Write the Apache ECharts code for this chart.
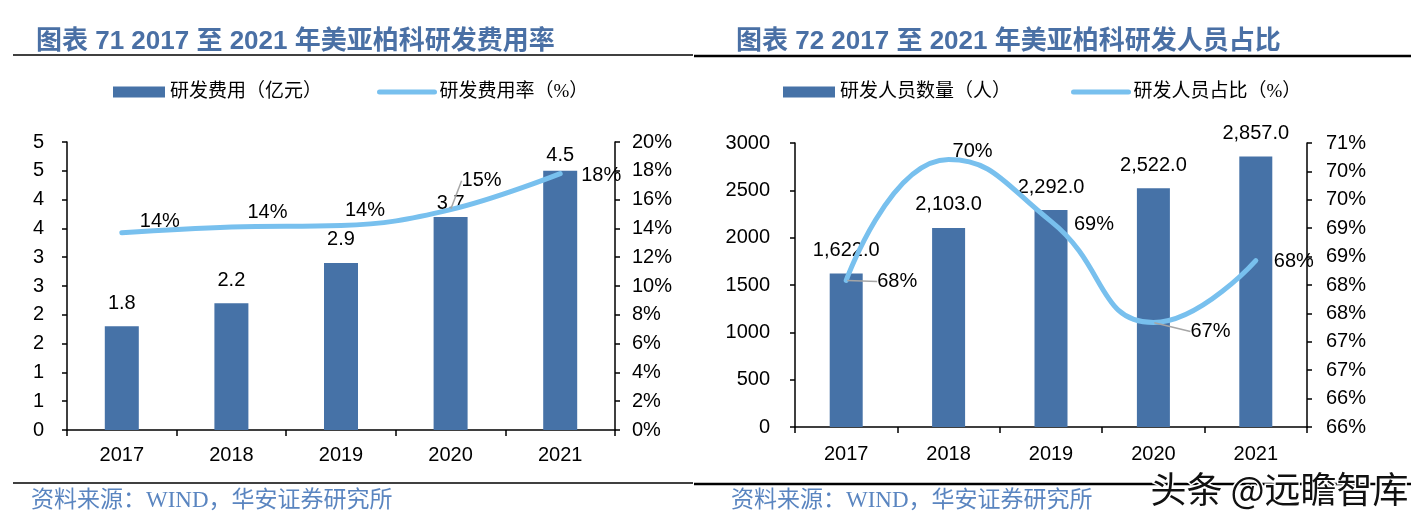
<!DOCTYPE html>
<html><head><meta charset="utf-8">
<script src="https://cdn.jsdelivr.net/npm/echarts@6/dist/echarts.min.js"></script>
<style>html,body{margin:0;padding:0;background:#fff}#c{width:1428px;height:525px}</style>
</head><body><div id="c"></div>
<script>
// ---- data ----
const years = ['2017', '2018', '2019', '2020', '2021'];
const rdExpense = [1.8, 2.2, 2.9, 3.7, 4.5];            // 亿元
const rdExpenseRate = [13.7, 14.1, 14.2, 15.3, 17.8];   // %
const rdStaff = [1622, 2103, 2292, 2522, 2857];         // 人
const rdStaffShare = [68.58, 70.71, 69.62, 67.84, 68.93]; // %
const leftTicksExpense = { min: 0, max: 5, interval: 0.5 };
const leftTicksRate = { min: 0, max: 20, interval: 2 };
const rightTicksStaff = { min: 0, max: 3000, interval: 500 };
const rightTicksShare = { min: 66, max: 71, interval: 0.5 };

// ---- styles ----
const BAR = '#4672A7';
const LINE = '#78C0EE';
const TITLE = '#4A70A5';
const SRC = '#5A85C0';
const NUM_FONT = "'Liberation Sans', Arial, 'Noto Sans CJK SC', sans-serif";
const CJK_FONT = "'Liberation Serif', 'Noto Sans CJK SC', serif";

const leftRateOffsets = [[38, -11], [36, -14], [24, -15], [31, -29], [41, 2]];
const rightShareOffsets = [[51, 1], [24, -8], [43, 3], [57, 9], [38, 1]];
const leftGuide = [3];
const rightGuide = [0, 3];
const leftBarDist = [13, 13, 13, 3, 5];

function thousands(v) {
  const s = v.toFixed(1);
  const [i, d] = s.split('.');
  return i.replace(/\B(?=(\d{3})+(?!\d))/g, ',') + '.' + d;
}

const axisLine = { show: true, lineStyle: { color: '#000', width: 1.5 } };
const axisTick = (len) => ({ show: true, length: len, lineStyle: { color: '#000', width: 1.5 } });
const numLabel = { color: '#000', fontSize: 20, fontFamily: NUM_FONT };
const legendText = { fontSize: 19, color: '#000', fontFamily: CJK_FONT, lineHeight: 20 };
const titleText = { color: TITLE, fontSize: 26, fontWeight: 'bold', lineHeight: 30,
  fontFamily: "'Liberation Sans', 'Noto Sans CJK SC', sans-serif" };

const chart = echarts.init(document.getElementById('c'), null, { renderer: 'canvas' });

const option = {
  animation: false,
  backgroundColor: '#fff',
  title: [
    { text: '图表 71 2017 至 2021 年美亚柏科研发费用率', left: 31, top: 22, textStyle: titleText },
    { text: '图表 72 2017 至 2021 年美亚柏科研发人员占比', left: 731, top: 22, textStyle: titleText }
  ],
  legend: [
    { data: [{ name: '研发费用（亿元）', icon: 'rect' }], left: 113, top: 82, padding: 0, itemWidth: 52, itemHeight: 11,
      textStyle: legendText },
    { data: ['研发费用率（%）'], left: 377, top: 82, padding: 0, itemWidth: 55, itemHeight: 11,
      lineStyle: { width: 5, cap: 'round' }, textStyle: legendText },
    { data: [{ name: '研发人员数量（人）', icon: 'rect' }], left: 783, top: 82, padding: 0, itemWidth: 52, itemHeight: 11,
      textStyle: legendText },
    { data: ['研发人员占比（%）'], left: 1071, top: 82, padding: 0, itemWidth: 55, itemHeight: 11,
      lineStyle: { width: 5, cap: 'round' }, textStyle: legendText }
  ],
  grid: [
    { left: 67, top: 142, width: 548, height: 288, containLabel: false },
    { left: 795, top: 143, width: 512, height: 284, containLabel: false }
  ],
  xAxis: [
    { type: 'category', gridIndex: 0, data: years, boundaryGap: true,
      axisLine, axisTick: axisTick(6), axisLabel: Object.assign({ margin: 15 }, numLabel) },
    { type: 'category', gridIndex: 1, data: years, boundaryGap: true,
      axisLine, axisTick: axisTick(6), axisLabel: Object.assign({ margin: 17 }, numLabel) }
  ],
  yAxis: [
    Object.assign({ type: 'value', gridIndex: 0, position: 'left', splitLine: { show: false },
      axisLine, axisTick: axisTick(5),
      axisLabel: Object.assign({ margin: 23, formatter: v => String(Math.round(v)) }, numLabel) }, leftTicksExpense),
    Object.assign({ type: 'value', gridIndex: 0, position: 'right', splitLine: { show: false },
      axisLine, axisTick: axisTick(5),
      axisLabel: Object.assign({ margin: 17, formatter: v => Math.round(v) + '%' }, numLabel) }, leftTicksRate),
    Object.assign({ type: 'value', gridIndex: 1, position: 'left', splitLine: { show: false },
      axisLine, axisTick: axisTick(5),
      axisLabel: Object.assign({ margin: 25, formatter: v => String(v) }, numLabel) }, rightTicksStaff),
    Object.assign({ type: 'value', gridIndex: 1, position: 'right', splitLine: { show: false },
      axisLine, axisTick: axisTick(5),
      axisLabel: Object.assign({ margin: 19, formatter: v => Math.floor(v + 1e-9) + '%' }, numLabel) }, rightTicksShare)
  ],
  series: [
    { name: '研发费用（亿元）', type: 'bar', xAxisIndex: 0, yAxisIndex: 0, barWidth: 34,
      itemStyle: { color: BAR },
      data: rdExpense.map((v, i) => ({ value: v, label: { distance: leftBarDist[i] } })),
      label: Object.assign({ show: true, position: 'top', formatter: p => p.value.toFixed(1) }, numLabel),
      z: 2 },
    { name: '研发费用率（%）', type: 'line', xAxisIndex: 0, yAxisIndex: 1, smooth: 0.4,
      symbol: 'circle', symbolSize: 2, itemStyle: { color: 'rgba(0,0,0,0)' },
      lineStyle: { color: LINE, width: 5, cap: 'round' },
      data: rdExpenseRate.map((v, i) => ({ value: v,
        labelLine: { show: leftGuide.includes(i), lineStyle: { color: '#a6a6a6', width: 1.5 } } })),
      label: Object.assign({ show: true, position: 'inside', formatter: p => Math.round(p.value) + '%' }, numLabel),
      labelLayout: p => ({ dx: leftRateOffsets[p.dataIndex][0], dy: leftRateOffsets[p.dataIndex][1] }),
      z: 5 },
    { name: '研发人员数量（人）', type: 'bar', xAxisIndex: 1, yAxisIndex: 2, barWidth: 33,
      itemStyle: { color: BAR },
      data: rdStaff,
      label: Object.assign({ show: true, position: 'top', distance: 13, formatter: p => thousands(p.value) }, numLabel),
      z: 2 },
    { name: '研发人员占比（%）', type: 'line', xAxisIndex: 1, yAxisIndex: 3, smooth: true,
      symbol: 'circle', symbolSize: 2, itemStyle: { color: 'rgba(0,0,0,0)' },
      lineStyle: { color: LINE, width: 5, cap: 'round' },
      data: rdStaffShare.map((v, i) => ({ value: v,
        labelLine: { show: rightGuide.includes(i), lineStyle: { color: '#a6a6a6', width: 1.5 } } })),
      label: Object.assign({ show: true, position: 'inside', formatter: p => Math.floor(p.value) + '%' }, numLabel),
      labelLayout: p => ({ dx: rightShareOffsets[p.dataIndex][0], dy: rightShareOffsets[p.dataIndex][1] }),
      z: 5 }
  ],
  graphic: [
    { type: 'line', shape: { x1: 13, y1: 55, x2: 693, y2: 55 }, style: { stroke: '#000', lineWidth: 1.5 } },
    { type: 'line', shape: { x1: 694, y1: 56, x2: 1411, y2: 56 }, style: { stroke: '#000', lineWidth: 2.5 } },
    { type: 'line', shape: { x1: 13, y1: 483, x2: 693, y2: 483 }, style: { stroke: '#000', lineWidth: 1.5 } },
    { type: 'line', shape: { x1: 694, y1: 484, x2: 1411, y2: 484 }, style: { stroke: '#000', lineWidth: 2.5 } },
    { type: 'text', left: 31, top: 489, style: { text: '资料来源：WIND，华安证券研究所', fill: SRC,
      font: "23px " + CJK_FONT } },
    { type: 'text', left: 731, top: 489, style: { text: '资料来源：WIND，华安证券研究所', fill: SRC,
      font: "23px " + CJK_FONT } },
    { type: 'text', left: 1149, top: 470, z: 100, style: { text: '头条 @远瞻智库', fill: '#111',
      stroke: '#fff', lineWidth: 3, font: "36px 'Noto Sans CJK SC', sans-serif" } }
  ]
};
chart.setOption(option);
</script>
</body></html>
